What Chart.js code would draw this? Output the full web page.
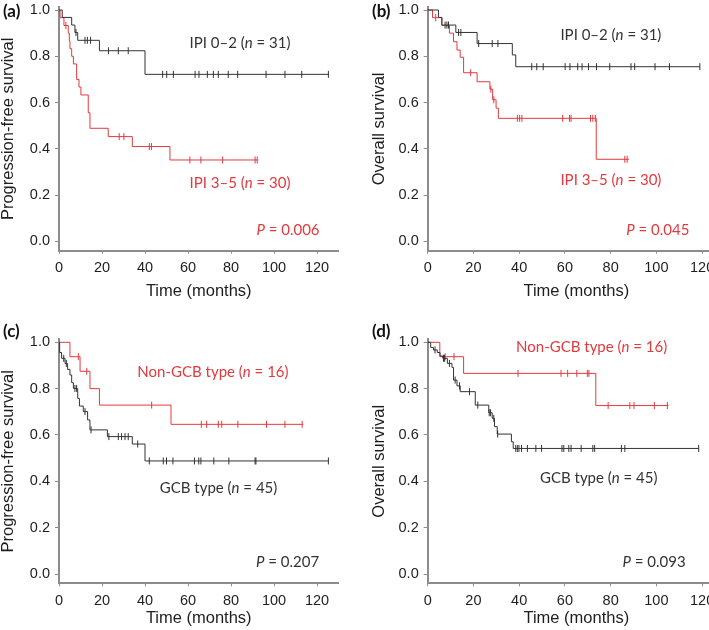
<!DOCTYPE html>
<html>
<head>
<meta charset="utf-8">
<script src="https://cdn.jsdelivr.net/npm/chart.js@4.4.1/dist/chart.umd.min.js"></script>
<style>
  html, body { margin: 0; padding: 0; background: #fff; overflow: hidden; }
  #wrap { position: relative; width: 709px; height: 630px; overflow: hidden; }
  #wrap canvas { position: absolute; }
</style>
</head>
<body>
<div id="wrap">
  <canvas id="km-a" width="355" height="315" style="left:0;top:0"></canvas>
  <canvas id="km-b" width="380" height="315" style="left:355px;top:0"></canvas>
  <canvas id="km-c" width="355" height="315" style="left:0;top:315px"></canvas>
  <canvas id="km-d" width="380" height="315" style="left:355px;top:315px"></canvas>
</div>
<script>
// axis ticks
const xTicks = [0, 20, 40, 60, 80, 100, 120];
const yTicks = [0, 0.2, 0.4, 0.6, 0.8, 1.0];

// (a) progression-free survival by IPI
const aLowTime  = [0, 1.5, 5.9, 7.4, 8.7, 18.8, 40, 125.3];
const aLowSurv  = [1, 0.968, 0.935, 0.903, 0.869, 0.824, 0.722, 0.722];
const aLowCens  = [7.9, 12.1, 13.2, 14.7, 23, 27.6, 32.2, 48.2, 50.1, 53.2, 63.3, 65.1, 69, 71.8, 74.1, 78.7, 83.1, 96.3, 105.1, 112.9, 125.3];
const aHighTime = [0, 0.5, 2.3, 4.3, 4.8, 5.1, 5.9, 6.7, 8.2, 9.3, 10.2, 13.6, 14.4, 22.9, 34.1, 51.6, 92.7];
const aHighSurv = [1, 0.967, 0.933, 0.9, 0.867, 0.833, 0.8, 0.767, 0.7, 0.667, 0.633, 0.556, 0.489, 0.453, 0.41, 0.352, 0.352];
const aHighCens = [3.2, 28, 30.2, 42, 43, 60.9, 66, 76.1, 91.2, 92.2];

// (b) overall survival by IPI
const bLowTime  = [0, 4.7, 6.2, 12.3, 21.6, 37, 38.5, 119];
const bLowSurv  = [1, 0.968, 0.935, 0.903, 0.855, 0.806, 0.755, 0.755];
const bLowCens  = [7.6, 8.4, 9.1, 13.5, 14.5, 22.3, 28.2, 30.7, 45.5, 47.7, 50.5, 60.1, 62.2, 65.6, 67.5, 70.3, 73.8, 79.6, 88.9, 90.5, 99.4, 105.7, 119];
const bHighTime = [0, 2.1, 6.2, 9.5, 11.3, 12.8, 14.2, 15.7, 21.6, 27.2, 28.4, 29.9, 30.9, 73.7, 88];
const bHighSurv = [1, 0.967, 0.933, 0.9, 0.863, 0.827, 0.796, 0.729, 0.69, 0.658, 0.612, 0.576, 0.532, 0.355, 0.355];
const bHighCens = [3.5, 18.8, 27.6, 28.9, 39.2, 40.2, 41.2, 59, 62, 62.7, 71.2, 72.2, 73.3, 86.2, 87.2];

// (c) progression-free survival by cell of origin
const cNonTime = [0, 5.1, 9.8, 14.4, 18.8, 52.1, 113.6];
const cNonSurv = [1, 0.938, 0.875, 0.8, 0.729, 0.646, 0.646];
const cNonCens = [9, 12.9, 43.1, 66.2, 68.7, 74.1, 75.7, 83.2, 96.5, 105.1, 113.1];
const cGcbTime = [0, 0.3, 1.2, 2.8, 4, 5.1, 5.9, 6.7, 8.7, 9.5, 11.3, 13.3, 14.4, 22.5, 34.1, 40, 125.3];
const cGcbSurv = [1, 0.956, 0.931, 0.909, 0.883, 0.859, 0.826, 0.801, 0.758, 0.725, 0.701, 0.665, 0.622, 0.593, 0.561, 0.488, 0.488];
const cGcbCens = [2.2, 3.4, 7.4, 8.2, 12.1, 14.9, 23.2, 27.6, 29.1, 30.7, 32.2, 36.6, 42, 48.5, 50, 53, 63, 65, 66, 72, 79, 91.2, 91.6, 125.3];

// (d) overall survival by cell of origin
const dNonTime = [0, 5.3, 15.7, 73.5, 105.3];
const dNonSurv = [1, 0.938, 0.866, 0.727, 0.727];
const dNonCens = [7.6, 11.5, 39.5, 58.3, 61.2, 65.2, 69.8, 70.5, 78.9, 88.4, 90.2, 99.1, 104.8];
const dGcbTime = [0, 1.3, 2.5, 4.2, 5.4, 6.6, 8.6, 10.6, 11.3, 12.8, 14.2, 20.8, 26.7, 28.2, 29.2, 30.4, 36.6, 37.4, 118.5];
const dGcbSurv = [1, 0.978, 0.967, 0.956, 0.941, 0.931, 0.909, 0.892, 0.837, 0.812, 0.787, 0.729, 0.696, 0.672, 0.636, 0.604, 0.571, 0.542, 0.542];
const dGcbCens = [3.2, 6.9, 7.4, 9.5, 12, 13.9, 18.3, 21.9, 26.9, 27.5, 28.9, 30.6, 38.5, 39.2, 39.9, 41, 43.6, 47.3, 49.8, 58.7, 59.5, 61.7, 62.7, 67.1, 72.2, 73, 84.7, 86.2, 118.5];

const BLACK = '#333333';
const RED = '#e23a3f';
const AXIS = '#8c8c8c';
const TICK_FONT = { family: '"Liberation Sans", Arial, sans-serif', size: 14.5 };
const TITLE_FONT = { family: '"Liberation Sans", Arial, sans-serif', size: 16.5 };
const NOTE_FONT = 'Lato, "Open Sans", sans-serif';

// value of the step curve at time t
function survAt(times, surv, t) {
    var v = surv[0];
    for (var i = 0; i < times.length; i++) {
        if (times[i] <= t) v = surv[i];
    }
    return v;
}

function curve(times, surv, color) {
    return {
        data: times.map((t, i) => ({ x: t, y: surv[i] })),
        stepped: true,
        borderColor: color,
        borderWidth: 1,
        pointRadius: 0,
        fill: false,
        clip: false
    };
}

function censors(cens, times, surv, color) {
    return {
        data: cens.map(t => ({ x: t, y: survAt(times, surv, t) })),
        showLine: false,
        pointStyle: 'line',
        rotation: 90,
        pointRadius: 3.5,
        pointBorderColor: color,
        pointBorderWidth: 1,
        clip: false
    };
}

// free text: group labels, P values and the panel letter
const notesPlugin = {
    id: 'notes',
    afterDraw(chart) {
        const ctx = chart.ctx, o = chart.options.plugins.notes;
        const xs = chart.scales.x, ys = chart.scales.y;
        ctx.save();
        ctx.textBaseline = 'middle';
        o.items.forEach(item => {
            const parts = item.parts;
            const widths = parts.map(p => {
                ctx.font = (p[1] ? 'italic ' : '') + o.size + 'px ' + NOTE_FONT;
                return ctx.measureText(p[0]).width;
            });
            const total = widths.reduce((a, b) => a + b, 0);
            var x = xs.getPixelForValue(item.x) - total / 2;
            const y = ys.getPixelForValue(item.y);
            ctx.fillStyle = item.color;
            parts.forEach((p, i) => {
                ctx.font = (p[1] ? 'italic ' : '') + o.size + 'px ' + NOTE_FONT;
                ctx.textAlign = 'left';
                ctx.fillText(p[0], x, y);
                x += widths[i];
            });
        });
        ctx.font = 'bold 17px ' + NOTE_FONT;
        ctx.fillStyle = '#111';
        ctx.textAlign = 'left';
        ctx.fillText(o.letter, o.letterX, o.letterY);
        ctx.restore();
    }
};

function kmChart(id, p) {
    return new Chart(document.getElementById(id), {
        type: 'line',
        data: { datasets: p.datasets },
        options: {
            responsive: false,
            animation: false,
            events: [],
            layout: { padding: { left: 0, top: p.top, right: p.right, bottom: 0 } },
            plugins: {
                legend: { display: false },
                tooltip: { enabled: false },
                notes: { items: p.notes, size: 15, letter: p.letter, letterX: p.letterX, letterY: p.letterY }
            },
            scales: {
                x: {
                    type: 'linear',
                    min: 0,
                    max: 130,
                    afterFit: s => { s.height = p.xHeight; s.paddingLeft = 0; s.paddingRight = 0; },
                    afterBuildTicks: s => { s.ticks = xTicks.map(v => ({ value: v })); },
                    grid: { display: true, drawOnChartArea: false, drawTicks: true, tickLength: 3, color: AXIS },
                    border: { color: AXIS, width: 2 },
                    ticks: { font: TICK_FONT, color: '#1e1e1e', padding: 6, maxRotation: 0, autoSkip: false,
                             callback: v => v },
                    title: { display: true, text: 'Time (months)', font: TITLE_FONT, color: '#1e1e1e',
                             padding: { top: 0, bottom: p.xTitlePad } }
                },
                y: {
                    type: 'linear',
                    min: -0.04,
                    max: 1.013,
                    afterFit: s => { s.width = p.yWidth; s.paddingTop = 0; s.paddingBottom = 0; },
                    afterBuildTicks: s => { s.ticks = yTicks.map(v => ({ value: v })); },
                    grid: { display: true, drawOnChartArea: false, drawTicks: true, tickLength: 4, color: AXIS },
                    border: { color: AXIS, width: 2 },
                    ticks: { font: TICK_FONT, color: '#1e1e1e', padding: 5, callback: v => v.toFixed(1) },
                    title: { display: true, text: p.yTitle, font: TITLE_FONT, color: '#1e1e1e',
                             padding: { top: p.yTitlePad, bottom: 0 } }
                }
            }
        },
        plugins: [notesPlugin]
    });
}

kmChart('km-a', {
    top: 7, right: 16.5, xHeight: 64.3, yWidth: 59, xTitlePad: 13.4, yTitlePad: -1.5,
    yTitle: 'Progression-free survival',
    letter: '(a)', letterX: 3, letterY: 12,
    datasets: [
        curve(aLowTime, aLowSurv, BLACK), censors(aLowCens, aLowTime, aLowSurv, BLACK),
        curve(aHighTime, aHighSurv, RED), censors(aHighCens, aHighTime, aHighSurv, RED)
    ],
    notes: [
        { parts: [['IPI 0\u20132 (', 0], ['n', 1], [' = 31)', 0]], x: 84.2, y: 0.857, color: BLACK },
        { parts: [['IPI 3\u20135 (', 0], ['n', 1], [' = 30)', 0]], x: 84.2, y: 0.253, color: RED },
        { parts: [['P', 1], [' = 0.006', 0]], x: 106.5, y: 0.05, color: RED }
    ]
});

kmChart('km-b', {
    top: 7, right: 10, xHeight: 64.3, yWidth: 72.7, xTitlePad: 13.4, yTitlePad: 15,
    yTitle: 'Overall survival',
    letter: '(b)', letterX: 17, letterY: 12,
    datasets: [
        curve(bLowTime, bLowSurv, BLACK), censors(bLowCens, bLowTime, bLowSurv, BLACK),
        curve(bHighTime, bHighSurv, RED), censors(bHighCens, bHighTime, bHighSurv, RED)
    ],
    notes: [
        { parts: [['IPI 0\u20132 (', 0], ['n', 1], [' = 31)', 0]], x: 80.1, y: 0.892, color: BLACK },
        { parts: [['IPI 3\u20135 (', 0], ['n', 1], [' = 30)', 0]], x: 80.1, y: 0.266, color: RED },
        { parts: [['P', 1], [' = 0.045', 0]], x: 100.6, y: 0.05, color: RED }
    ]
});

kmChart('km-c', {
    top: 24.3, right: 16.5, xHeight: 46.7, yWidth: 59, xTitlePad: 1.8, yTitlePad: -1.5,
    yTitle: 'Progression-free survival',
    letter: '(c)', letterX: 3, letterY: 17,
    datasets: [
        curve(cGcbTime, cGcbSurv, BLACK), censors(cGcbCens, cGcbTime, cGcbSurv, BLACK),
        curve(cNonTime, cNonSurv, RED), censors(cNonCens, cNonTime, cNonSurv, RED)
    ],
    notes: [
        { parts: [['Non-GCB type (', 0], ['n', 1], [' = 16)', 0]], x: 71.6, y: 0.873, color: RED },
        { parts: [['GCB type (', 0], ['n', 1], [' = 45)', 0]], x: 74.2, y: 0.371, color: BLACK },
        { parts: [['P', 1], [' = 0.207', 0]], x: 106.3, y: 0.053, color: BLACK }
    ]
});

kmChart('km-d', {
    top: 24.3, right: 10, xHeight: 46.7, yWidth: 72.7, xTitlePad: 1.8, yTitlePad: 15,
    yTitle: 'Overall survival',
    letter: '(d)', letterX: 17, letterY: 17,
    datasets: [
        curve(dGcbTime, dGcbSurv, BLACK), censors(dGcbCens, dGcbTime, dGcbSurv, BLACK),
        curve(dNonTime, dNonSurv, RED), censors(dNonCens, dNonTime, dNonSurv, RED)
    ],
    notes: [
        { parts: [['Non-GCB type (', 0], ['n', 1], [' = 16)', 0]], x: 71.7, y: 0.977, color: RED },
        { parts: [['GCB type (', 0], ['n', 1], [' = 45)', 0]], x: 74.8, y: 0.414, color: BLACK },
        { parts: [['P', 1], [' = 0.093', 0]], x: 99, y: 0.053, color: BLACK }
    ]
});
</script>
</body>
</html>
